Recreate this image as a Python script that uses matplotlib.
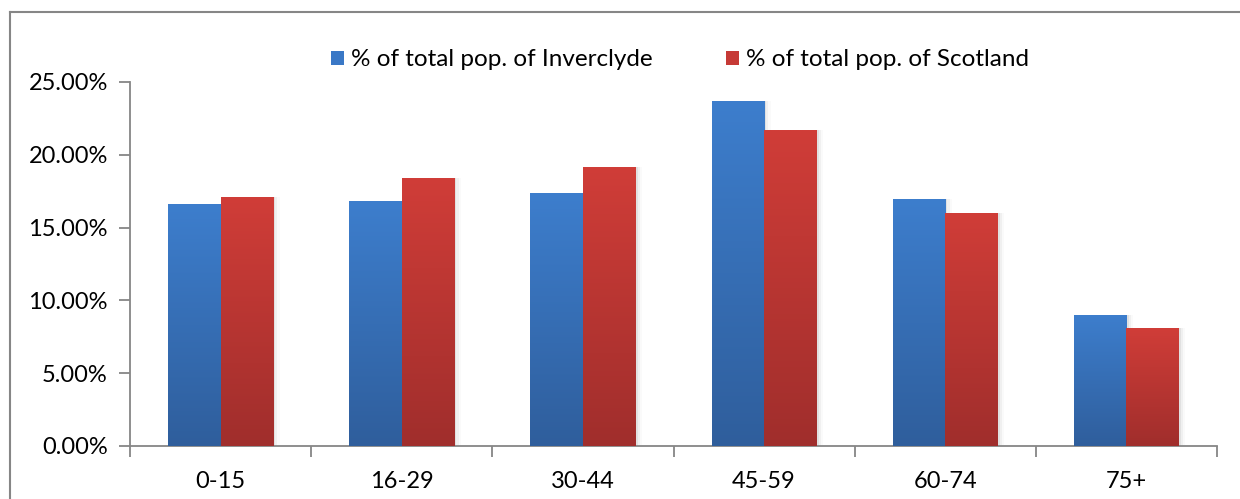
import matplotlib
matplotlib.use("Agg")
import matplotlib.pyplot as plt
import numpy as np
from matplotlib.colors import LinearSegmentedColormap
from matplotlib.ticker import FuncFormatter
from matplotlib.lines import Line2D
from matplotlib.patches import Patch

categories = ["0-15", "16-29", "30-44", "45-59", "60-74", "75+"]
inverclyde = [16.6, 16.8, 17.35, 23.7, 16.95, 9.0]
scotland = [17.1, 18.4, 19.15, 21.7, 15.98, 8.1]
series_labels = ["% of total pop. of Inverclyde", "% of total pop. of Scotland"]
yticks = [0, 5, 10, 15, 20, 25]

plt.rcParams['font.family'] = ['Lato', 'DejaVu Sans']

W, H = 1240, 499
fig = plt.figure(figsize=(W / 100, H / 100), dpi=100)
ax = fig.add_axes([130 / W, 1 - 446 / H, (1217 - 130) / W, (446 - 82) / H])

x = np.arange(len(categories))
bw = 0.29
blue_cmap = LinearSegmentedColormap.from_list("b", ["#2F5E9C", "#3D7ECD"])
red_cmap = LinearSegmentedColormap.from_list("r", ["#A02E2C", "#D03D38"])
grad = np.linspace(0, 1, 256).reshape(-1, 1)

def grad_bars(xs, vals, cmap, label):
    bars = ax.bar(xs, vals, width=bw, color="none", edgecolor="none", label=label, zorder=3)
    for b in bars:
        x0, y0 = b.get_x(), b.get_y()
        w, h = b.get_width(), b.get_height()
        for k, a in enumerate([0.06, 0.04, 0.02]):
            ax.bar(x0 + w / 2 + 0.012 * (k + 1), h, width=w, bottom=0,
                   color="black", alpha=a, edgecolor="none", zorder=2)
        im = ax.imshow(grad, cmap=cmap, aspect="auto", origin="lower",
                       extent=[x0, x0 + w, y0, y0 + h], zorder=3)
        im.set_clip_path(b)
    return bars

grad_bars(x - bw / 2, inverclyde, blue_cmap, series_labels[0])
grad_bars(x + bw / 2, scotland, red_cmap, series_labels[1])

ax.set_xlim(-0.5, len(categories) - 0.5)
ax.set_ylim(0, 25)
ax.set_yticks(yticks)
ax.yaxis.set_major_formatter(FuncFormatter(lambda v, p: f"{v:.2f}%"))
ax.set_xticks(x)
ax.set_xticklabels(categories)
ax.set_xticks(np.arange(len(categories) + 1) - 0.5, minor=True)
ax.tick_params(axis="x", which="major", length=0, labelsize=17, pad=18)
ax.tick_params(axis="x", which="minor", length=8, color="#868686", width=1.3)
ax.tick_params(axis="y", length=8, color="#868686", width=1.3, labelsize=17, pad=8)

for s in ["top", "right"]:
    ax.spines[s].set_visible(False)
for s in ["left", "bottom"]:
    ax.spines[s].set_color("#868686")
    ax.spines[s].set_linewidth(1.3)

handles = [Patch(facecolor="#3A78C6", edgecolor="none"), Patch(facecolor="#C63A36", edgecolor="none")]
fig.legend(handles, series_labels, loc="center", bbox_to_anchor=(680 / W, 1 - 60 / H),
           ncol=2, frameon=False, fontsize=17.5, handlelength=0.55, handleheight=0.55,
           handletextpad=0.3, columnspacing=3.0, borderpad=0)

fig.add_artist(Line2D([10 / W, 10 / W], [0, 1 - 12 / H], color="#868686", lw=1.5, transform=fig.transFigure))
fig.add_artist(Line2D([10 / W, 1], [1 - 12 / H, 1 - 12 / H], color="#868686", lw=1.5, transform=fig.transFigure))

fig.savefig("out.png", dpi=100)
